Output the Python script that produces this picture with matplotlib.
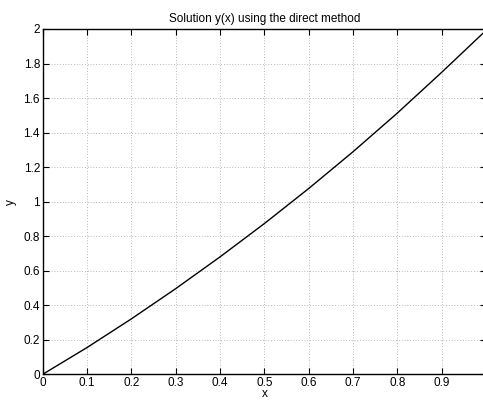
import numpy as np
import matplotlib
matplotlib.use('Agg')
import matplotlib.pyplot as plt

# valores
x = [0.0, 0.1, 0.2, 0.3, 0.4, 0.5, 0.6, 0.7, 0.8, 0.9, 1.0]
y = [0.0, 0.155, 0.321, 0.496, 0.680, 0.873, 1.076, 1.289, 1.513, 1.749, 1.992]
xticks = [0, 0.1, 0.2, 0.3, 0.4, 0.5, 0.6, 0.7, 0.8, 0.9]
xticklabels = ['0', '0.1', '0.2', '0.3', '0.4', '0.5', '0.6', '0.7', '0.8', '0.9']
yticks = [0, 0.2, 0.4, 0.6, 0.8, 1.0, 1.2, 1.4, 1.6, 1.8, 2.0]
yticklabels = ['0', '0.2', '0.4', '0.6', '0.8', '1', '1.2', '1.4', '1.6', '1.8', '2']

plt.rcParams['font.family'] = ['Liberation Sans', 'DejaVu Sans']
plt.rcParams['font.size'] = 8.5

fig = plt.figure(figsize=(4.83, 4.0), dpi=100)
# a caixa continua um pouco fora da figura, como no original recortado
ax = fig.add_axes([42.7 / 483, 25.7 / 400, 443.3 / 483, 345.3 / 400])

ax.plot(x, y, color='black', linewidth=1.0)
ax.set_xlim(0, 1)
ax.set_ylim(0, 2)
ax.set_xticks(xticks)
ax.set_xticklabels(xticklabels)
ax.set_yticks(yticks)
ax.set_yticklabels(yticklabels)
ax.tick_params(direction='in', length=4, width=0.8, top=True, right=True, pad=2)
ax.grid(True, linestyle=(0, (1, 3)), color='#777777', linewidth=0.5)
for s in ax.spines.values():
    s.set_linewidth(1.0)

ax.set_title('Solution y(x) using the direct method', fontsize=8.5, pad=5)
ax.set_xlabel('x', labelpad=-0.5)
ax.set_ylabel('y', labelpad=5)

fig.savefig('out.png', dpi=100)
